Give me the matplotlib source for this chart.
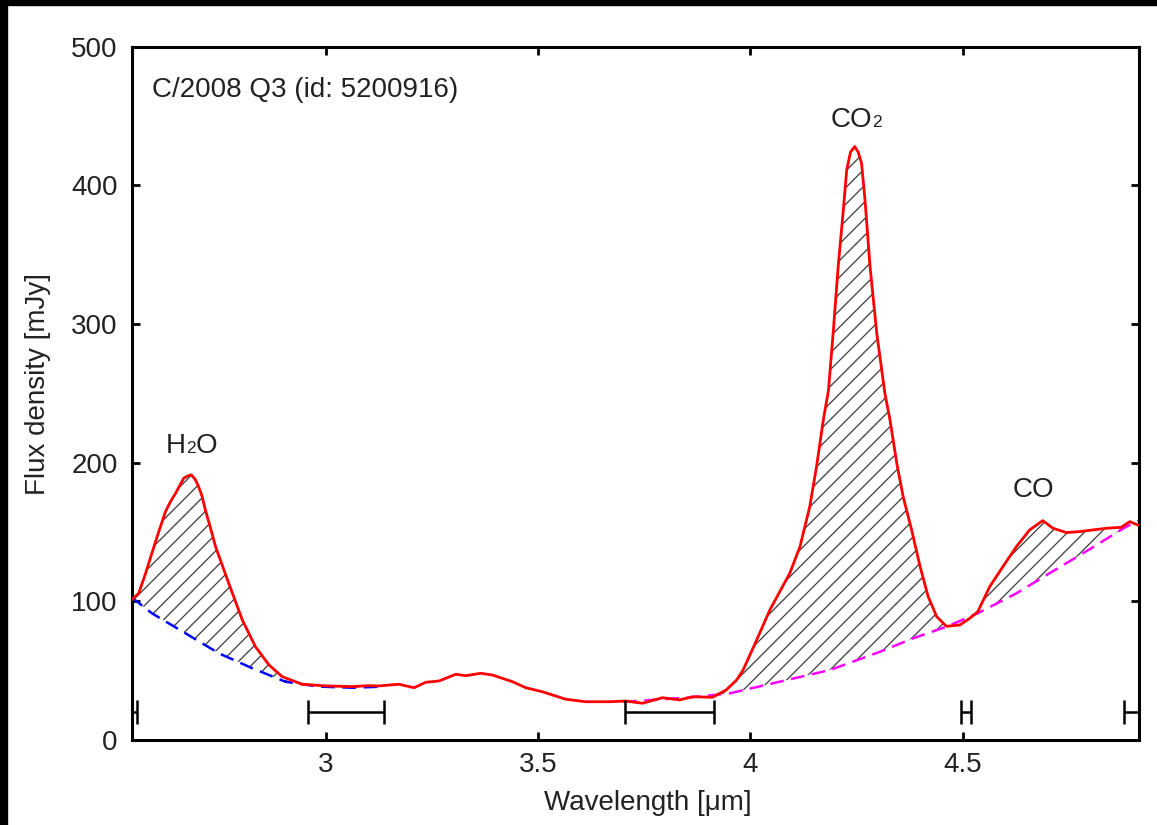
import numpy as np
import matplotlib
matplotlib.use("Agg")
import matplotlib.pyplot as plt
from matplotlib.patches import Rectangle
from matplotlib.offsetbox import TextArea, HPacker, AnnotationBbox

plt.rcParams['font.family'] = ['Liberation Sans', 'DejaVu Sans']
plt.rcParams['hatch.linewidth'] = 0.9

# ---------------- data ----------------
red_x = [2.542, 2.559, 2.575, 2.590, 2.606, 2.622, 2.634, 2.646, 2.665, 2.675, 2.683,
         2.692, 2.700, 2.708, 2.716, 2.728, 2.740,
         2.771, 2.803, 2.834, 2.866, 2.897, 2.944, 3.000, 3.062, 3.101, 3.125,
         3.172, 3.208, 3.235, 3.267, 3.306, 3.329, 3.365, 3.392, 3.439, 3.471,
         3.510, 3.565, 3.612, 3.667, 3.707, 3.746, 3.793, 3.833, 3.864, 3.911,
         3.943, 3.967, 3.983, 4.015, 4.046, 4.093, 4.117, 4.140, 4.156, 4.172,
         4.184, 4.195, 4.207, 4.219, 4.227, 4.236, 4.246, 4.254, 4.262, 4.270,
         4.282, 4.298, 4.317, 4.329, 4.345, 4.360, 4.380, 4.400, 4.419, 4.439,
         4.462, 4.480, 4.494, 4.517, 4.536, 4.564, 4.595, 4.627, 4.658, 4.689,
         4.713, 4.745, 4.776, 4.807, 4.839, 4.874, 4.894, 4.913]
red_y = [101, 105.8, 120, 134.7, 150, 164.7, 172, 178.0, 188.8, 190.5, 191.2,
         188, 182.8, 176, 165.9, 153, 139.5,
         113.1, 86.6, 67.3, 54.1, 45.7, 40.2, 39.0, 38.5, 39.2, 39.0,
         40.2, 37.7, 41.6, 42.6, 47.4, 46.4, 48.1, 46.9, 42.1, 37.7,
         34.8, 29.4, 27.6, 27.6, 28.1, 26.5, 30.5, 28.9, 31.2, 30.8,
         36.1, 43.0, 50.5, 72.2, 93.8, 120.3, 139.5, 168.3, 197.2, 230.9,
         252, 293, 341.5, 382, 411, 424, 428, 424, 416, 390,
         341.5, 293, 250, 230.9, 199.6, 175.5, 151.5, 125, 103.4, 89,
         82, 82.5, 83, 87.8, 92.6, 110.6, 125, 139.5, 151.5, 158.2,
         152.7, 149.6, 150.3, 151.5, 152.7, 153.4, 157.5, 155]

blue_x = [2.542, 2.590, 2.669, 2.748, 2.827, 2.905, 2.984, 3.062, 3.137]
blue_y = [103, 91.4, 77, 62.5, 51.7, 42, 38.5, 37.7, 38.5]

mag_x = [3.700, 3.750, 3.800, 3.850, 3.900, 3.952, 4.070, 4.188, 4.306, 4.384,
         4.462, 4.536, 4.627, 4.705, 4.784, 4.886, 4.915]
mag_y = [27.5, 28.5, 29.5, 30.5, 32.0, 33.7, 42.1, 50.5, 63.7, 73.4,
         81.7, 91.4, 105.8, 120.3, 134.7, 153.9, 158]

# continuum windows
win_lo = [2.530, 2.958, 3.704, 4.497, 4.880]
win_hi = [2.554, 3.137, 3.914, 4.519, 4.950]
win_level = 20

x_ticks = [3, 3.5, 4, 4.5]
x_tick_labels = ['3', '3.5', '4', '4.5']
y_ticks = [0, 100, 200, 300, 400, 500]

title_text = 'C/2008 Q3 (id: 5200916)'

# ---------------- figure ----------------
W, H = 1157, 825
fig = plt.figure(figsize=(W / 100, H / 100), dpi=100)
L, R, T, B = 131.5, 1138.7, 46.7, 740.0
ax = fig.add_axes([L / W, 1 - B / H, (R - L) / W, (B - T) / H])

# black border strips of the reference screenshot
fig.patches.append(Rectangle((0, 1 - 4.7 / H), 1, 4.7 / H, transform=fig.transFigure,
                             color='black', zorder=10))
fig.patches.append(Rectangle((0, 0), 6.7 / W, 1, transform=fig.transFigure,
                             color='black', zorder=10))

rx = np.array(red_x)
ry = np.array(red_y)

# hatched emission regions
m1 = rx <= 3.0
b1 = np.interp(rx[m1], blue_x, blue_y)
ax.fill_between(rx[m1], b1, ry[m1], where=ry[m1] >= b1, interpolate=True,
                facecolor='none', edgecolor='#3a3a3a', hatch='//', linewidth=0, zorder=1)
m2 = rx >= 3.90
b2 = np.interp(rx[m2], mag_x, mag_y)
ax.fill_between(rx[m2], b2, ry[m2], where=ry[m2] >= b2, interpolate=True,
                facecolor='none', edgecolor='#3a3a3a', hatch='//', linewidth=0, zorder=1)

# continuum fits
lb, = ax.plot(blue_x, blue_y, color='#0000ff', lw=1.8, zorder=2)
lb.set_dashes((5.5, 3))
lm, = ax.plot(mag_x, mag_y, color='#ff00ff', lw=1.8, zorder=2)
lm.set_dashes((5.5, 3))

# spectrum
ax.plot(red_x, red_y, color='#ff0000', lw=2.0, zorder=3,
        solid_joinstyle='round', solid_capstyle='round')

# continuum windows
for lo, hi in zip(win_lo, win_hi):
    c = (lo + hi) / 2
    ax.errorbar([c], [win_level], xerr=[[c - lo], [hi - c]], fmt='none',
                ecolor='black', elinewidth=1.8, capsize=8.8, capthick=1.8, zorder=4)

ax.set_xlim(2.542, 4.915)
ax.set_ylim(0, 500)
ax.set_xticks(x_ticks)
ax.set_xticklabels(x_tick_labels)
ax.set_yticks(y_ticks)

for s in ax.spines.values():
    s.set_linewidth(2.2)
ax.tick_params(direction='in', length=6, width=2.0, top=True, right=True,
               labelsize=20, colors='black', labelcolor='#222222')
ax.tick_params(axis='y', pad=10)
ax.tick_params(axis='x', pad=9)

ax.set_xlabel('Wavelength [μm]', fontsize=20, color='#222222')
ax.xaxis.label.set_verticalalignment('center')
ax.xaxis.set_label_coords((648 - L) / (R - L), (B - 803) / (B - T))
ax.set_ylabel('Flux density [mJy]', fontsize=20, color='#222222')
ax.yaxis.label.set_verticalalignment('center')
ax.yaxis.set_label_coords((38 - L) / (R - L), (B - 384) / (B - T))

ax.text((151.7 - L) / (R - L), (B - 97) / (B - T), title_text, transform=ax.transAxes,
        ha='left', va='baseline', fontsize=20, color='#222222')


def chem(parts, x, y):
    kids = [TextArea(t, textprops=dict(fontsize=s, color='#222222')) for t, s in parts]
    box = HPacker(children=kids, align='baseline', pad=0, sep=0)
    ab = AnnotationBbox(box, (x, y), xycoords='data', frameon=False,
                        box_alignment=(0.5, 0.0), pad=0)
    ax.add_artist(ab)


chem([('H', 20), ('2', 12.5), ('O', 20)], 2.683, 202.7)
chem([('CO', 20), ('2', 12.5)], 4.250, 438.0)
chem([('CO', 20)], 4.668, 171.0)

fig.savefig('out.png', dpi=100)
